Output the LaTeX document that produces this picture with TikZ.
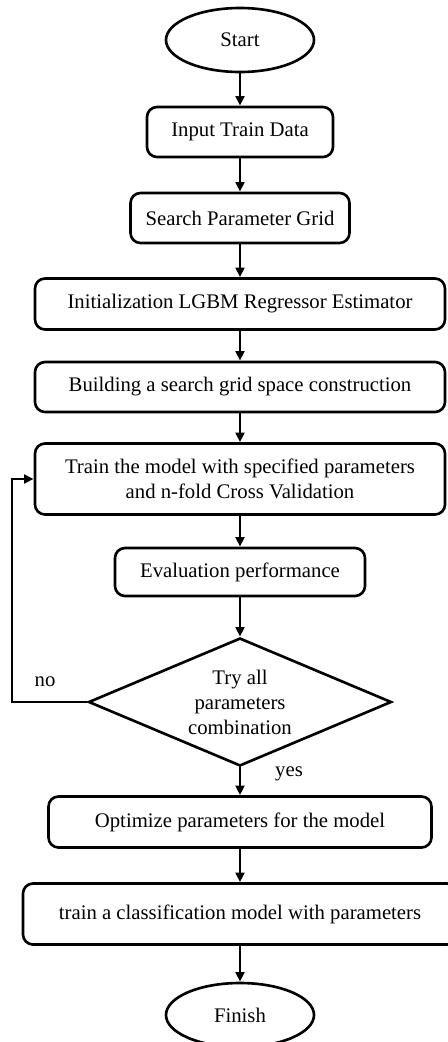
\documentclass[tikz,border=0pt]{standalone}
\usepackage{fontspec}
\setmainfont{Liberation Serif}
\usetikzlibrary{shapes.geometric,arrows.meta}

\begin{document}
\begin{tikzpicture}[
		font=\fontsize{11.8}{14.2}\selectfont,
		term/.style={ellipse,draw,line width=1.5pt,minimum width=2.96cm,minimum height=1.28cm,inner sep=0pt},
		box/.style={rectangle,draw,line width=1.5pt,rounded corners=0.2cm,minimum height=1cm,align=center},
		test/.style={diamond,draw,line width=1.5pt,aspect=2.37,inner sep=0pt,minimum width=6.06cm,minimum height=2.56cm,align=center},
		flow/.style={-{Triangle[length=5.5pt,width=5pt]},line width=1.4pt}]
			\useasboundingbox (0,0) rectangle (8.94,-20.84);

			\node[term] (start) at (4.8,-0.8) {Start};
			\node[box,minimum width=3.72cm] (input) at (4.8,-2.64) {Input Train Data};
			\node[box,minimum width=4.38cm] (grid) at (4.8,-4.36) {Search Parameter Grid};
			\node[box,minimum width=8.2cm,minimum height=1.02cm] (init) at (4.8,-6.08) {Initialization LGBM Regressor Estimator};
			\node[box,minimum width=8.2cm] (space) at (4.8,-7.74) {Building a search grid space construction};
			\node[box,minimum width=8.2cm,minimum height=1.42cm] (train) at (4.8,-9.58) {Train the model with specified parameters\\and n-fold Cross Validation};
			\node[box,minimum width=5cm,minimum height=0.96cm] (eval) at (4.8,-11.44) {Evaluation performance};
			\node[test] (try) at (4.8,-14.04) {Try all\\parameters\\combination};
			\node[box,minimum width=7.66cm,minimum height=1.02cm] (opt) at (4.8,-16.44) {Optimize parameters for the model};
			\node[box,minimum width=8.68cm,minimum height=1.22cm] (clf) at (4.8,-18.28) {train a classification model with parameters};
			\node[term] (finish) at (4.8,-20.3) {Finish};

			\node (no) at (0.9,-13.64) {no};
			\node (yes) at (5.78,-15.48) {yes};
			\coordinate (back) at (0.24,-14.04);

			\draw[flow] (start) -- (input);
			\draw[flow] (input) -- (grid);
			\draw[flow] (grid) -- (init);
			\draw[flow] (init) -- (space);
			\draw[flow] (space) -- (train);
			\draw[flow] (train) -- (eval);
			\draw[flow] (eval) -- (try);
			\draw[flow] (try) -- (opt);
			\draw[flow] (opt) -- (clf);
			\draw[flow] (clf) -- (finish);
			\draw[flow] (try.west) -- (back) |- (train.west);
		\end{tikzpicture}
\end{document}
